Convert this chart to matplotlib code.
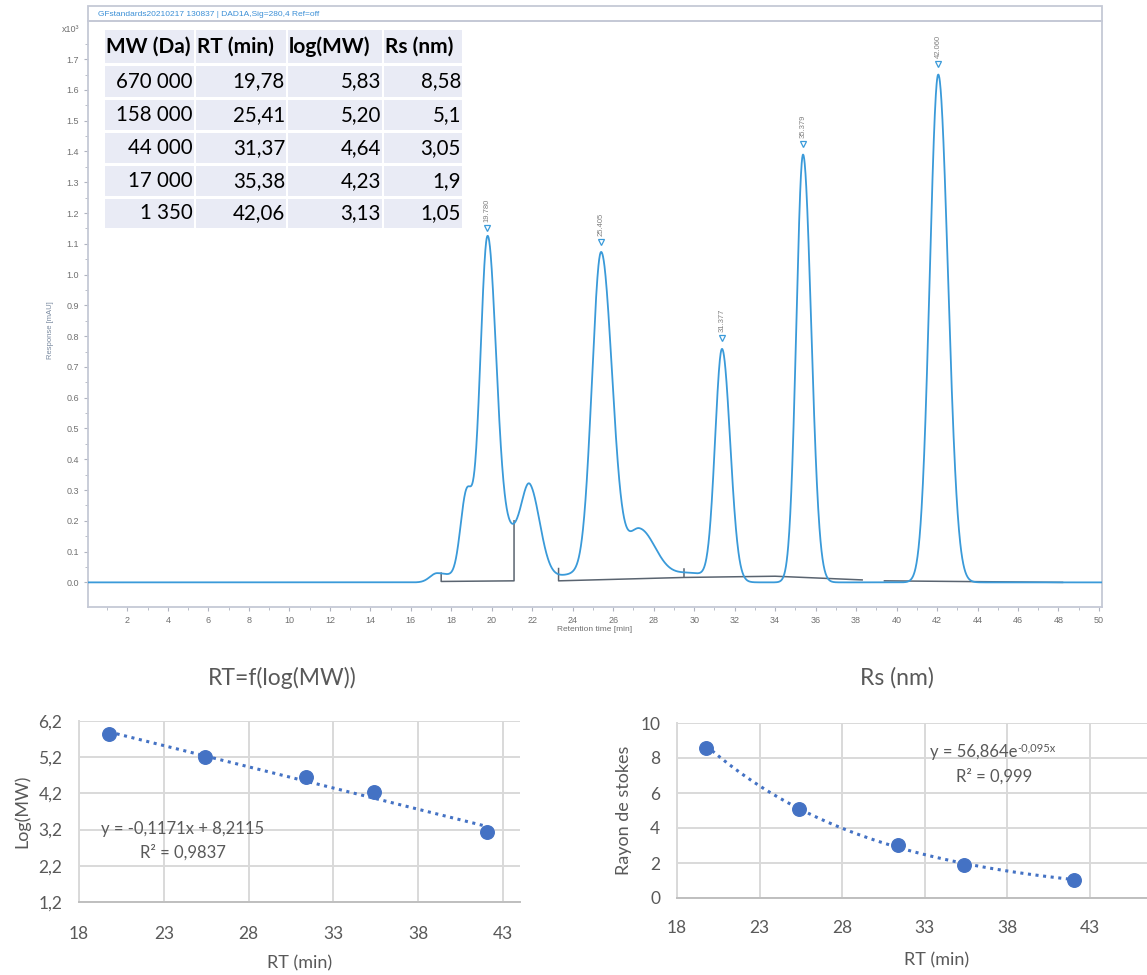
import numpy as np
import matplotlib
matplotlib.use("Agg")
import matplotlib.pyplot as plt
from matplotlib.patches import Rectangle

W, H = 1147, 975

# calibration table
MW = ["670 000", "158 000", "44 000", "17 000", "1 350"]
RT = [19.78, 25.41, 31.37, 35.38, 42.06]
LOG_MW = [5.83, 5.20, 4.64, 4.23, 3.13]
RS = [8.58, 5.1, 3.05, 1.9, 1.05]
RS_TXT = ["8,58", "5,1", "3,05", "1,9", "1,05"]
HEADERS = ["MW (Da)", "RT (min)", "log(MW)", "Rs (nm)"]

# chromatogram: labelled peaks
PEAK_RT = [19.780, 25.405, 31.377, 35.379, 42.060]
PEAK_H = [1.125, 1.08, 0.77, 1.398, 1.658]
# signal components: centre, height, sigma left, sigma right
COMP_C = [17.3, 18.75, 19.78, 20.8, 21.9, 25.405, 27.3, 31.377, 35.379, 42.06, 24.5, 29.8]
COMP_H = [0.03, 0.27, 1.04, 0.16, 0.24, 1.05, 0.17, 0.75, 1.39, 1.65, 0.03, 0.03]
COMP_SL = [0.35, 0.30, 0.36, 0.9, 0.40, 0.45, 0.6, 0.34, 0.33, 0.42, 1.2, 1.0]
COMP_SR = [0.8, 0.30, 0.42, 0.9, 0.50, 0.55, 0.8, 0.40, 0.40, 0.48, 1.2, 1.0]
# integration baselines
BASE1_X = [17.5, 17.5, 21.1, 21.1]
BASE1_Y = [0.03, 0.003, 0.005, 0.20]
BASE2_X = [23.3, 23.3, 29.5, 34.0, 38.3]
BASE2_Y = [0.045, 0.005, 0.016, 0.02, 0.008]
BASE3_X = [39.4, 48.2]
BASE3_Y = [0.005, 0.0]
TICK_X = [29.5, 29.5]
TICK_Y = [0.016, 0.042]

BLUE = "#4472C4"
GREY = "#595959"
FRAME = "#c5c9d6"
TRACE = "#3a9ad9"


def fbox(x0, y0, x1, y1):
    """pixel box (top-left origin) -> figure rect"""
    return [x0 / W, 1 - y1 / H, (x1 - x0) / W, (y1 - y0) / H]


fig = plt.figure(figsize=(W / 100, H / 100), dpi=100)

# ---------------- chromatogram ----------------
ax = fig.add_axes(fbox(88, 21, 1102, 607))
t = np.linspace(0, 50.2, 4000)
sig = np.zeros_like(t)
for c, h, sl, sr in zip(COMP_C, COMP_H, COMP_SL, COMP_SR):
    s = np.where(t < c, sl, sr)
    sig += h * np.exp(-(t - c) ** 2 / (2 * s ** 2))
ax.plot(t, sig, color=TRACE, lw=1.3, zorder=3)
for bx, by in [(BASE1_X, BASE1_Y), (BASE2_X, BASE2_Y), (BASE3_X, BASE3_Y), (TICK_X, TICK_Y)]:
    ax.plot(bx, by, color="#5a6470", lw=1.1, zorder=2)
for rt, h in zip(PEAK_RT, PEAK_H):
    ax.plot(rt, h + 0.025, marker="v", ms=5, mfc="white", mec=TRACE, mew=0.9, zorder=4)
    ax.text(rt, h + 0.045, f"{rt:.3f}", rotation=90, ha="center", va="bottom",
            fontsize=5.5, color="#808080", family="Liberation Sans")
ax.set_xlim(0.05, 50.15)
ax.set_ylim(-0.08, 1.824)
ax.set_xticks(np.arange(2, 51, 2))
ax.set_xticks(np.arange(1, 51, 1), minor=True)
ax.set_yticks(np.arange(0, 1.75, 0.1))
ax.set_yticks(np.arange(0, 1.8, 0.05), minor=True)
ax.set_yticklabels([f"{v:.1f}" for v in np.arange(0, 1.75, 0.1)])
ax.tick_params(which="both", colors="#b0b4c0", labelcolor="#707070",
               labelsize=6.5, length=3)
ax.tick_params(which="minor", length=2)
for lab in ax.get_xticklabels() + ax.get_yticklabels():
    lab.set_family("Liberation Sans")
for sp in ax.spines.values():
    sp.set_color(FRAME)
    sp.set_linewidth(1.3)
ax.set_xlabel("Retention time [min]", fontsize=6, color="#707070",
              family="Liberation Sans", labelpad=1)
fig.text(50 / W, 1 - 330 / H, "Response [mAU]", rotation=90, ha="center", va="center",
         fontsize=5.5, color="#7a8aa0", family="Liberation Sans")
fig.text(62 / W, 1 - 29 / H, "x10³", fontsize=6.5, color="#707070", family="Liberation Sans",
         va="center")
fig.add_artist(Rectangle((88 / W, 1 - 21 / H), (1102 - 88) / W, 15 / H, transform=fig.transFigure,
                         fill=False, ec=FRAME, lw=1.3))
fig.text(98 / W, 1 - 14 / H, "GFstandards20210217 130837 | DAD1A,Sig=280,4 Ref=off",
         fontsize=6, color="#3b8fd6", family="Liberation Sans", va="center")

# ---------------- table ----------------
col_x = [(105, 194), (196, 286), (288, 382), (384, 462)]
row_y = [(30, 63), (66, 97), (100, 130), (133, 163), (166, 196), (199, 228)]
cells = [HEADERS] + [[m, f"{r:.2f}".replace(".", ","), f"{l:.2f}".replace(".", ","), s]
                     for m, r, l, s in zip(MW, RT, LOG_MW, RS_TXT)]
for i, (y0, y1) in enumerate(row_y):
    for j, (x0, x1) in enumerate(col_x):
        fig.add_artist(Rectangle((x0 / W, 1 - y1 / H), (x1 - x0) / W, (y1 - y0) / H,
                                 transform=fig.transFigure, fc="#e9ebf5", ec="none"))
        txt = cells[i][j]
        if i == 0:
            fig.text((x0 + 1) / W, 1 - (y0 + y1) / 2 / H, txt, ha="left", va="center",
                     fontsize=15, weight="bold", family="Lato", color="black")
        else:
            fig.text((x1 - 1) / W, 1 - (y0 + y1) / 2 / H, txt, ha="right", va="center",
                     fontsize=14.8, family="Lato", color="black")

# ---------------- calibration plots ----------------
def style(a, xl, yl, xpad, ypad):
    a.grid(True, color="#d9d9d9", lw=1.4)
    a.set_axisbelow(True)
    for k in ("top", "right"):
        a.spines[k].set_visible(False)
    a.spines["left"].set_color("#d9d9d9")
    a.spines["left"].set_linewidth(1.4)
    a.spines["bottom"].set_color("#bfbfbf")
    a.spines["bottom"].set_linewidth(1.4)
    a.tick_params(length=0, labelsize=12.5, labelcolor=GREY)
    a.tick_params(axis="x", pad=xpad)
    a.tick_params(axis="y", pad=ypad)
    for lab in a.get_xticklabels() + a.get_yticklabels():
        lab.set_family("Lato")
    a.set_xlabel(xl, fontsize=13, color=GREY, family="Lato", labelpad=10)
    a.set_ylabel(yl, fontsize=13, color=GREY, family="Lato", labelpad=6)


rt = np.array(RT)
xs = np.linspace(rt.min(), rt.max(), 100)

a1 = fig.add_axes(fbox(79, 721, 520, 902))
k, b = np.polyfit(rt, LOG_MW, 1)
a1.plot(xs, k * xs + b, ls=(0, (1, 1.5)), color=BLUE, lw=2.2)
a1.scatter(rt, LOG_MW, s=95, color=BLUE, zorder=3)
a1.set_xlim(18, 44)
a1.set_ylim(1.2, 6.2)
a1.set_xticks(np.arange(18, 44, 5))
a1.set_yticks(np.arange(1.2, 6.3, 1.0))
a1.set_yticklabels([f"{v:.1f}".replace(".", ",") for v in np.arange(1.2, 6.3, 1.0)])
style(a1, "RT (min)", "Log(MW)", 17, 12)
a1.text(24.1, 3.22, "y = -0,1171x + 8,2115", ha="center", va="center", fontsize=12, color=GREY, family="Lato")
a1.text(24.1, 2.58, "R² = 0,9837", ha="center", va="center", fontsize=12, color=GREY, family="Lato")
fig.text(282 / W, 1 - 678 / H, "RT=f(log(MW))", ha="center", va="center", fontsize=16.5,
         color=GREY, family="Lato")

a2 = fig.add_axes(fbox(677, 723, 1147, 898))
ke, be = np.polyfit(rt, np.log(RS), 1)
a2.plot(xs, np.exp(be) * np.exp(ke * xs), ls=(0, (1, 1.5)), color=BLUE, lw=2.2)
a2.scatter(rt, RS, s=95, color=BLUE, zorder=3)
a2.set_xlim(18, 46.45)
a2.set_ylim(0, 10)
a2.set_xticks(np.arange(18, 44, 5))
a2.set_yticks(np.arange(0, 11, 2))
style(a2, "RT (min)", "Rayon de stokes", 16, 12)
a2.xaxis.set_label_coords((937 - 677) / (1147 - 677), -0.31)
eq = a2.text(33.3, 8.34, "y = 56,864e", ha="left", va="center",
             fontsize=12, color=GREY, family="Lato")
a2.annotate("-0,095x", xy=(1, 1), xycoords=eq, xytext=(0, 1), textcoords="offset points",
            ha="left", va="top", fontsize=8, color=GREY, family="Lato")
a2.text(37.2, 6.97, "R² = 0,999", ha="center", va="center", fontsize=12, color=GREY, family="Lato")
fig.text(897 / W, 1 - 678 / H, "Rs (nm)", ha="center", va="center", fontsize=16.5,
         color=GREY, family="Lato")

fig.savefig("out.png", dpi=100)
